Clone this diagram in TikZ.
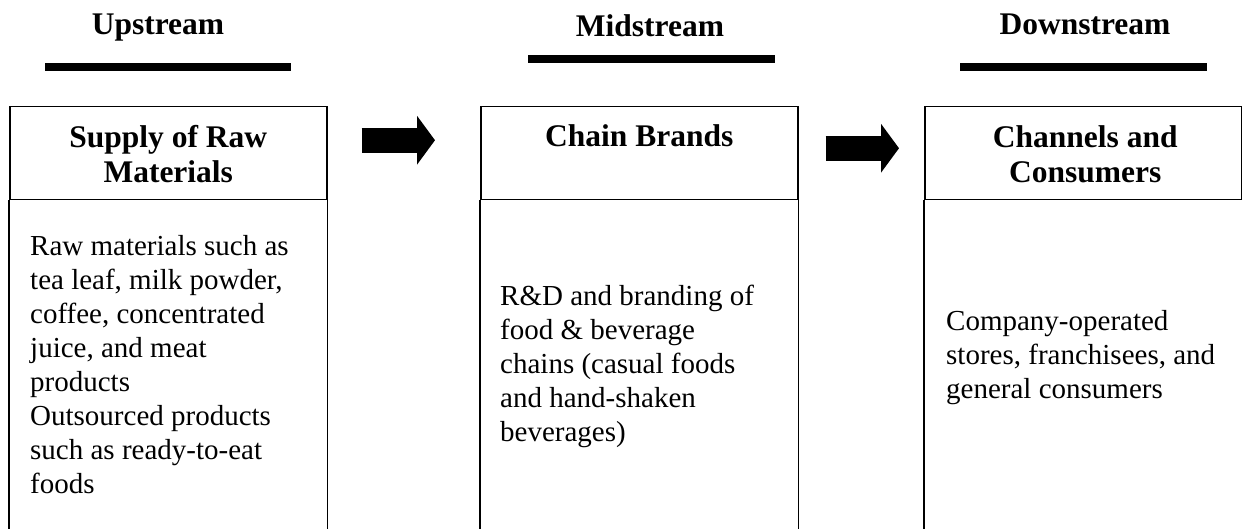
\documentclass[tikz,border=0pt]{standalone}
\usepackage{fontspec}
\setmainfont{Liberation Serif}
\usetikzlibrary{arrows.meta,calc}
\begin{document}
\begin{tikzpicture}[x=1pt,y=1pt,
  boxline/.style={line width=1.5pt},
  hdline/.style={line width=8pt},
  hdbox/.style={draw, boxline, minimum width=317pt, minimum height=93pt, anchor=north west, inner sep=0pt},
  headtxt/.style={font=\fontsize{31.5}{35}\selectfont\bfseries, inner sep=0pt, anchor=base, align=center},
  bodytxt/.style={font=\fontsize{29}{34}\selectfont, inner sep=0pt, anchor=base west, align=left},
  bigarrow/.style={line width=25pt, -{Triangle[length=18pt 0 0, width=48pt 0 0]}}
]
\useasboundingbox[fill=white] (0,0) rectangle (1242,-529);

% stage titles
\node[headtxt] (up)   at (158,-35)  {Upstream};
\node[headtxt] (mid)  at (650,-37)  {Midstream};
\node[headtxt] (down) at (1085,-35) {Downstream};
\draw[hdline] (45,-67) -- (291,-67);
\draw[hdline] (528,-59) -- (775,-59);
\draw[hdline] (960,-67) -- (1207,-67);

% header boxes
\node[hdbox] (h1) at (9,-106) {};
\node[hdbox] (h2) at (480,-106) {};
\node[hdbox] (h3) at (924,-106) {};

% (base anchor = baseline of the last line)
\node[headtxt] (t1) at ($(h1.north)+(0,-77)$) {Supply of Raw\\Materials};
\node[headtxt] (t2) at ($(h2.north)+(0,-41)$) {Chain Brands};
\node[headtxt] (t3) at ($(h3.north)+(2,-77)$) {Channels and\\Consumers};

% body box sides
\foreach \b in {h1,h2,h3}{
  \draw[boxline] (\b.south west) -- ++(0,-332);
  \draw[boxline] (\b.south east) -- ++(0,-332);
}

% body texts
\node[bodytxt] (b1) at (30,-493) {Raw materials such as\\tea leaf, milk powder,\\coffee, concentrated\\juice, and meat\\products\\Outsourced products\\such as ready-to-eat\\foods};
\node[bodytxt] (b2) at (500,-441) {R\&D and branding of\\food \& beverage\\chains (casual foods\\and hand-shaken\\beverages)};
\node[bodytxt] (b3) at (946,-398) {Company-operated\\stores, franchisees, and\\general consumers};

% arrows
\draw[bigarrow] ($(h1.east)+(34,13)$) -- ($(h2.west)+(-45,13)$);
\draw[bigarrow] ($(h2.east)+(27,5)$) -- ($(h3.west)+(-25,5)$);
\end{tikzpicture}
\end{document}
